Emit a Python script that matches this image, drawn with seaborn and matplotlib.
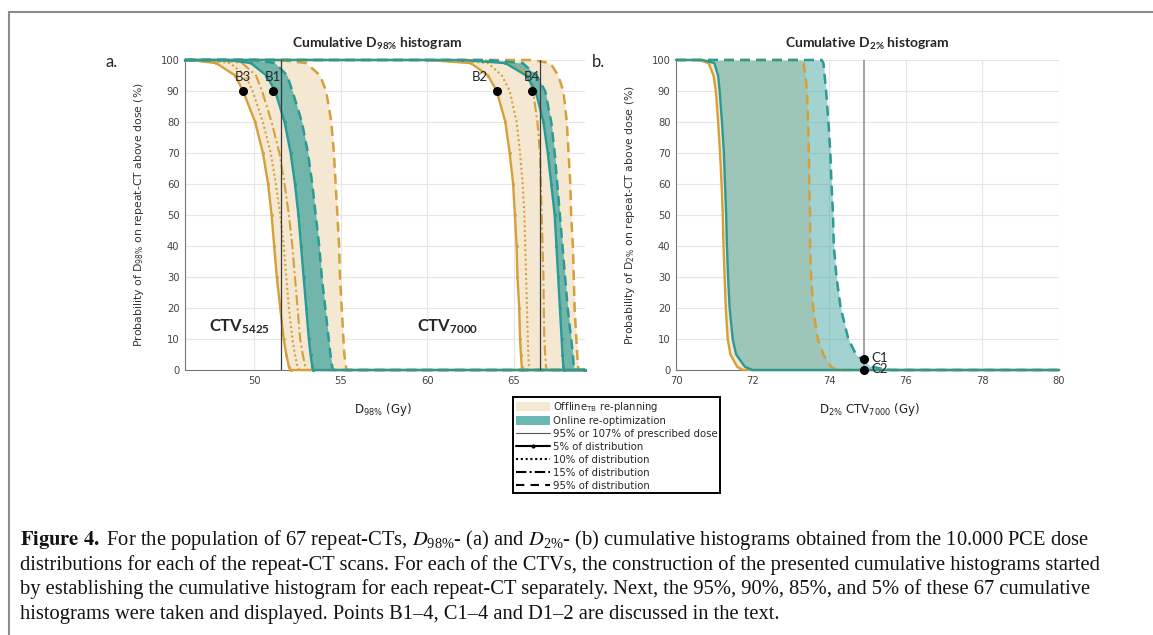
import matplotlib
matplotlib.use("Agg")
import matplotlib.pyplot as plt
import seaborn as sns
from matplotlib.patches import Patch
from matplotlib.lines import Line2D

# ---------------- data ----------------
# probability levels (%) at which the dose values were read
PROB = [100, 99, 95, 90, 80, 70, 60, 50, 40, 30, 20, 10, 5, 1, 0]

# panel a, CTV5425 (D98%, Gy)
OFF5425_P5 = [46.3, 47.8, 48.9, 49.35, 50.05, 50.5, 50.8, 51.0, 51.15, 51.3, 51.5, 51.7, 51.85, 52.0, 52.1]
OFF5425_P10 = [47.3, 48.6, 49.5, 49.9, 50.5, 50.95, 51.25, 51.5, 51.7, 51.85, 52.0, 52.2, 52.35, 52.5, 52.6]
OFF5425_P15 = [48.0, 49.3, 50.1, 50.45, 51.0, 51.45, 51.75, 52.0, 52.2, 52.35, 52.5, 52.65, 52.8, 52.95, 53.05]
OFF5425_P95 = [51.5, 53.0, 53.8, 54.15, 54.45, 54.6, 54.7, 54.8, 54.9, 54.95, 55.05, 55.15, 55.2, 55.3, 55.35]
ON5425_P5 = [48.5, 49.8, 50.7, 51.2, 51.75, 52.1, 52.35, 52.55, 52.7, 52.85, 53.0, 53.15, 53.25, 53.35, 53.4]
ON5425_P95 = [50.0, 51.2, 51.9, 52.2, 52.75, 53.1, 53.35, 53.55, 53.75, 53.9, 54.1, 54.3, 54.4, 54.5, 54.55]

# panel a, CTV7000 (D98%, Gy)
OFF7000_P5 = [60.0, 62.5, 63.5, 64.0, 64.5, 64.75, 64.95, 65.05, 65.15, 65.2, 65.3, 65.35, 65.4, 65.45, 65.45]
OFF7000_P10 = [61.5, 63.5, 64.3, 64.75, 65.15, 65.35, 65.5, 65.6, 65.65, 65.7, 65.75, 65.8, 65.83, 65.86, 65.9]
OFF7000_P15 = [63.0, 65.0, 65.8, 66.1, 66.35, 66.5, 66.55, 66.6, 66.65, 66.7, 66.72, 66.75, 66.8, 66.85, 66.9]
OFF7000_P95 = [66.0, 67.1, 67.55, 67.85, 68.05, 68.15, 68.25, 68.3, 68.4, 68.45, 68.5, 68.6, 68.65, 68.7, 68.75]
ON7000_P5 = [62.0, 64.5, 65.7, 66.25, 66.7, 66.95, 67.15, 67.35, 67.45, 67.55, 67.65, 67.75, 67.8, 67.85, 67.9]
ON7000_P95 = [63.5, 65.5, 66.3, 66.8, 67.15, 67.35, 67.5, 67.65, 67.8, 67.95, 68.1, 68.3, 68.4, 68.45, 68.5]

# panel b, CTV7000 (D2%, Gy)
OFFD2_P5 = [70.6, 70.85, 70.98, 71.04, 71.1, 71.15, 71.19, 71.22, 71.24, 71.27, 71.3, 71.35, 71.42, 71.6, 71.75]
OFFD2_P95 = [73.2, 73.33, 73.38, 73.42, 73.45, 73.47, 73.48, 73.5, 73.5, 73.53, 73.58, 73.7, 73.85, 74.05, 74.2]
OND2_P5 = [70.7, 71.0, 71.1, 71.14, 71.2, 71.25, 71.28, 71.31, 71.33, 71.36, 71.4, 71.48, 71.57, 71.8, 72.0]
OND2_P95 = [73.8, 73.85, 73.88, 73.92, 73.98, 74.03, 74.06, 74.1, 74.12, 74.19, 74.3, 74.5, 74.7, 75.1, 75.6]

# reference doses (95% of 54.25 / 70 Gy, 107% of 70 Gy)
REF_A = [51.54, 66.5]
REF_B = [74.9]

# marked points
B_LABELS = ["B3", "B1", "B2", "B4"]
B_X = [49.35, 51.1, 64.0, 66.05]
B_Y = [90, 90, 90, 90]
C_LABELS = ["C1", "C2"]
C_X = [74.9, 74.9]
C_Y = [3.5, 0]

XTICKS_A = [50, 55, 60, 65]
XTICKS_B = [70, 72, 74, 76, 78, 80]
YTICKS = list(range(0, 101, 10))

# ---------------- style ----------------
sns.set_style("white")
plt.rcParams["font.family"] = ["DejaVu Sans"]
plt.rcParams["mathtext.default"] = "regular"

ORANGE = "#d5a03a"
TEAL = "#2a9a96"
BEIGE = "#f5e8d2"
CAL = "Lato"

W, H = 1153, 635
fig = plt.figure(figsize=(W / 100, H / 100), dpi=100)


def fx(px):
    return px / W


def fy(py):
    return 1 - py / H


axA = fig.add_axes([fx(185), fy(370), (585 - 185) / W, 310 / H])
axB = fig.add_axes([fx(676), fy(370), (1059 - 676) / W, 310 / H])

S5 = dict(linestyle="-", marker=".", markersize=4.5, lw=1.7, markeredgewidth=0)
S10 = dict(linestyle=(0, (1, 1.3)), lw=1.5)
S15 = dict(linestyle=(0, (5, 1.5, 1, 1.5)), lw=1.5)
S95 = dict(linestyle=(0, (4, 2.4)), lw=1.8)


def curve(ax, doses, color, style, xmin, xmax, z):
    x = [xmin] + list(doses) + [xmax]
    y = [100] + PROB + [0]
    sns.lineplot(x=x, y=y, ax=ax, color=color, sort=False, estimator=None,
                 errorbar=None, clip_on=False, zorder=z, **style)
    ln = ax.lines[-1]
    ln.set_markerfacecolor(color)
    ln.set_markeredgecolor(color)


def setup(ax, xlim, xticks):
    ax.set_xlim(*xlim)
    ax.set_ylim(0, 100)
    ax.set_xticks(xticks)
    ax.set_yticks(YTICKS)
    ax.grid(True, color="#e6e6e6", lw=0.8)
    ax.set_axisbelow(True)
    for s in ["top", "right"]:
        ax.spines[s].set_visible(False)
    for s in ["left", "bottom"]:
        ax.spines[s].set_color("#777777")
        ax.spines[s].set_linewidth(0.8)
    ax.tick_params(direction="in", length=3, width=0.6, colors="#555555",
                   labelsize=7.2, labelcolor="#444444", pad=4)


# ---------- panel a ----------
XA = (46.0, 69.1)
setup(axA, XA, XTICKS_A)
for lo, hi in [(OFF5425_P5, OFF5425_P95), (OFF7000_P5, OFF7000_P95)]:
    axA.fill_betweenx(PROB, lo, hi, color=BEIGE, lw=0, zorder=1)
for lo, hi in [(ON5425_P5, ON5425_P95), (ON7000_P5, ON7000_P95)]:
    axA.fill_betweenx(PROB, lo, hi, color=TEAL, alpha=0.65, lw=0, zorder=2)
for grp in [(OFF5425_P5, OFF5425_P10, OFF5425_P15, OFF5425_P95),
            (OFF7000_P5, OFF7000_P10, OFF7000_P15, OFF7000_P95)]:
    for d, st in zip(grp, [S5, S10, S15, S95]):
        curve(axA, d, ORANGE, st, XA[0], XA[1], 4)
for grp in [(ON5425_P5, ON5425_P95), (ON7000_P5, ON7000_P95)]:
    for d, st in zip(grp, [S5, S95]):
        curve(axA, d, TEAL, st, XA[0], XA[1], 5)
for r in REF_A:
    axA.axvline(r, color="#3a3a3a", lw=0.9, zorder=6)
axA.plot(B_X, B_Y, "o", color="black", ms=5.5, zorder=8, clip_on=False)
b_off = [0, 0, -0.95, 0]
for lab, x, y, o in zip(B_LABELS, B_X, B_Y, b_off):
    axA.text(x + o, y + 4.5, lab, family=CAL, fontsize=9.5, ha="center",
             va="center", zorder=9)
axA.text(47.4, 13.9, r"CTV$_{5425}$", family=CAL, fontweight="bold",
         fontsize=12, va="center", ha="left", zorder=9)
axA.text(59.4, 13.9, r"CTV$_{7000}$", family=CAL, fontweight="bold",
         fontsize=12, va="center", ha="left", zorder=9)
axA.set_ylabel(r"Probability of D$_{98\%}$ on repeat-CT above dose (%)",
               fontsize=7.8, color="#333333")
axA.yaxis.set_label_coords((146 - 185) / 400, 0.5)
axA.set_xlabel(r"D$_{98\%}$ (Gy)", fontsize=8.5, color="#222222")
axA.xaxis.set_label_coords(0.495, (370 - 401) / 310)
axA.text(0.48, (370 - 44) / 310, r"Cumulative D$_{98\%}$ histogram",
         transform=axA.transAxes, family=CAL, fontweight="bold", fontsize=10,
         ha="center", va="center")

# ---------- panel b ----------
XB = (70, 80)
setup(axB, XB, XTICKS_B)
axB.fill_betweenx(PROB, OFFD2_P5, OFFD2_P95, color=BEIGE, lw=0, zorder=1)
axB.fill_betweenx(PROB, OND2_P5, OND2_P95, color=TEAL, alpha=0.43, lw=0, zorder=2)
curve(axB, OFFD2_P95, ORANGE, S95, XB[0], XB[1], 4)
curve(axB, OND2_P95, TEAL, S95, XB[0], XB[1], 4.5)
curve(axB, OFFD2_P5, ORANGE, dict(linestyle="-", lw=1.7), XB[0], XB[1], 5)
curve(axB, OND2_P5, TEAL, dict(linestyle="-", lw=1.7), XB[0], XB[1], 5.5)
for r in REF_B:
    axB.axvline(r, color="#8a8a8a", lw=1.1, zorder=6)
axB.plot(C_X, C_Y, "o", color="black", ms=5.5, zorder=8, clip_on=False)
for lab, x, y in zip(C_LABELS, C_X, C_Y):
    axB.text(x + 0.2, y + 0.3, lab, family=CAL, fontsize=9.5, ha="left",
             va="center", zorder=9)
axB.set_ylabel(r"Probability of D$_{2\%}$ on repeat-CT above dose (%)",
               fontsize=7.8, color="#333333")
axB.yaxis.set_label_coords((637 - 676) / 383, 0.5)
axB.set_xlabel(r"D$_{2\%}$ CTV$_{7000}$ (Gy)", fontsize=8.5, color="#222222")
axB.xaxis.set_label_coords(0.505, (370 - 401) / 310)
axB.text(0.4987, (370 - 44) / 310, r"Cumulative D$_{2\%}$ histogram",
         transform=axB.transAxes, family=CAL, fontweight="bold", fontsize=10,
         ha="center", va="center")

# panel letters
fig.text(fx(112), fy(62), "a.", family=CAL, fontsize=12, ha="center", va="center")
fig.text(fx(598), fy(62), "b.", family=CAL, fontsize=12, ha="center", va="center")

# legend
handles = [
    Patch(facecolor=BEIGE, edgecolor="none", label=r"Offline$_{TB}$ re-planning"),
    Patch(facecolor="#6ab6b3", edgecolor="none", label="Online re-optimization"),
    Line2D([], [], color="#555555", lw=0.8, label="95% or 107% of prescribed dose"),
    Line2D([], [], color="black", lw=1.5, marker=".", ms=4, label="5% of distribution"),
    Line2D([], [], color="black", lw=1.5, linestyle=(0, (1, 1.3)), label="10% of distribution"),
    Line2D([], [], color="black", lw=1.5, linestyle=(0, (5, 1.5, 1, 1.5)), label="15% of distribution"),
    Line2D([], [], color="black", lw=1.5, linestyle=(0, (4, 3)), label="95% of distribution"),
]
leg = fig.legend(handles=handles, loc="upper left", bbox_to_anchor=(fx(513), fy(397)),
                 fontsize=7.3, frameon=True, fancybox=False, framealpha=1,
                 edgecolor="black", borderpad=0.25, labelspacing=0.28,
                 handlelength=3.4, handleheight=1.0, handletextpad=0.25,
                 borderaxespad=0)
leg.get_frame().set_linewidth(1.4)

# outer frame
fig.add_artist(Line2D([fx(9), 1], [fy(12), fy(12)], transform=fig.transFigure,
                      color="#8c8c8c", lw=1.5))
fig.add_artist(Line2D([fx(9), fx(9)], [0, fy(12)], transform=fig.transFigure,
                      color="#8c8c8c", lw=1.5))

# caption
CAP = dict(family="Liberation Serif", fontsize=14.8, ha="left", va="baseline",
           math_fontfamily="stix", color="#111111")
lines = [
    r"$\mathbf{Figure\ 4.}$ For the population of 67 repeat-CTs, $\mathit{D}_{98\%}$- (a) and "
    r"$\mathit{D}_{2\%}$- (b) cumulative histograms obtained from the 10.000 PCE dose",
    "distributions for each of the repeat-CT scans. For each of the CTVs, the construction of the "
    "presented cumulative histograms started",
    "by establishing the cumulative histogram for each repeat-CT separately. Next, the 95%, 90%, "
    "85%, and 5% of these 67 cumulative",
    "histograms were taken and displayed. Points B1\u20134, C1\u20134 and D1\u20132 are discussed in the text.",
]
for i, t in enumerate(lines):
    fig.text(fx(20), fy(545 + 24.7 * i), t, **CAP)

fig.savefig("out.png", dpi=100)
